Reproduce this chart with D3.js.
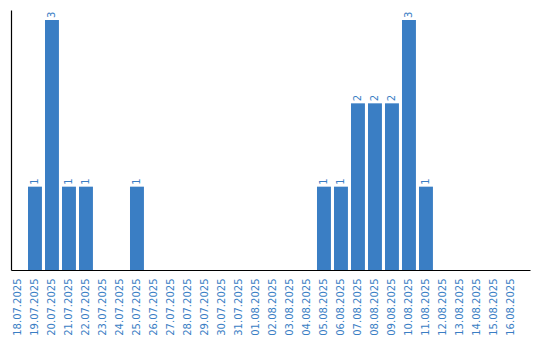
<!DOCTYPE html>
<html>
<head>
<meta charset="utf-8">
<script src="https://cdn.jsdelivr.net/npm/d3@7"></script>
<style>
  body { margin: 0; background: #fff; }
  text { font-family: "DejaVu Sans", sans-serif; fill: #3a7ec4; }
</style>
</head>
<body>
<div id="chart"></div>
<script>
const dates = ["18.07.2025", "19.07.2025", "20.07.2025", "21.07.2025", "22.07.2025", "23.07.2025",
  "24.07.2025", "25.07.2025", "26.07.2025", "27.07.2025", "28.07.2025", "29.07.2025",
  "30.07.2025", "31.07.2025", "01.08.2025", "02.08.2025", "03.08.2025", "04.08.2025",
  "05.08.2025", "06.08.2025", "07.08.2025", "08.08.2025", "09.08.2025", "10.08.2025",
  "11.08.2025", "12.08.2025", "13.08.2025", "14.08.2025", "15.08.2025", "16.08.2025"];
const counts = [0, 1, 3, 1, 1, 0, 0, 1, 0, 0, 0, 0, 0, 0, 0, 0, 0, 0,
  1, 1, 2, 2, 2, 3, 1, 0, 0, 0, 0, 0];

const width = 540, height = 340;
const margin = { top: 10, left: 11, right: 10, bottom: 70 };
const barColor = "#3a7ec4";

const svg = d3.select("#chart").append("svg")
  .attr("width", width)
  .attr("height", height);

const xScale = d3.scaleBand()
  .domain(dates)
  .range([margin.left, width - margin.right])
  .paddingInner(0.18)
  .paddingOuter(0.355)
  .align(0);

const yScale = d3.scaleLinear()
  .domain([0, d3.max(counts) * 1.04])
  .range([height - margin.bottom, margin.top]);

const data = dates.map((d, i) => ({ date: d, value: counts[i] }));

// bars
svg.selectAll(".bar")
  .data(data.filter(d => d.value > 0))
  .enter()
  .append("rect")
  .attr("class", "bar")
  .attr("x", d => xScale(d.date))
  .attr("y", d => yScale(d.value))
  .attr("width", xScale.bandwidth())
  .attr("height", d => yScale(0) - yScale(d.value))
  .attr("fill", barColor);

// value labels, rotated like the axis labels
svg.selectAll(".val")
  .data(data.filter(d => d.value > 0))
  .enter()
  .append("text")
  .attr("class", "val")
  .attr("transform", d => "translate(" + (xScale(d.date) + xScale.bandwidth() / 2 + 3.5) + "," + (yScale(d.value) - 2) + ") rotate(-90)")
  .style("font-size", "10px")
  .text(d => d.value);

// x axis
const xAxis = d3.axisBottom(xScale).tickSize(0).tickSizeOuter(0);
const gx = svg.append("g")
  .attr("transform", "translate(0," + yScale(0) + ")")
  .call(xAxis);
gx.select(".domain").attr("stroke", "#000").attr("stroke-width", 1.2);
gx.selectAll(".tick text")
  .attr("fill", barColor)
  .style("font-size", "10px")
  .style("font-family", "'DejaVu Sans', sans-serif")
  .attr("text-anchor", "end")
  .attr("dy", "0.35em")
  .attr("transform", "translate(0,6) rotate(-90)")
  .attr("x", -2.5)
  .attr("y", 0);

// y axis (line only)
const yAxis = d3.axisLeft(yScale).tickValues([]).tickSizeOuter(0);
const gy = svg.append("g")
  .attr("transform", "translate(" + margin.left + ",0)")
  .call(yAxis);
gy.select(".domain").attr("stroke", "#000").attr("stroke-width", 1.2);
</script>
</body>
</html>
